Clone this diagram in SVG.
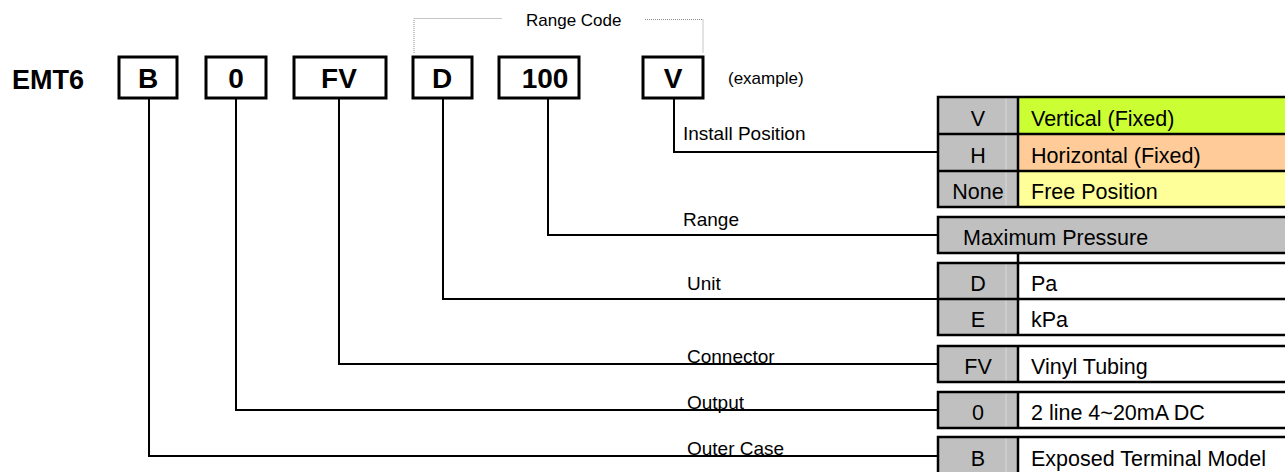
<svg xmlns="http://www.w3.org/2000/svg" width="1285" height="472" viewBox="0 0 1285 472">
<style>
.box{fill:#fff;stroke:#000;stroke-width:3}
.code{font-family:"Liberation Sans",Arial,sans-serif;font-weight:bold;font-size:28px;text-anchor:middle;fill:#000}
.lbl{font-family:"Liberation Sans",Arial,sans-serif;font-size:19px;fill:#000}
.sm{font-family:"Liberation Sans",Arial,sans-serif;font-size:17px;fill:#000}
.tt{font-family:"Liberation Sans",Arial,sans-serif;font-size:21.5px;fill:#000}
.tc{font-family:"Liberation Sans",Arial,sans-serif;font-size:21.5px;fill:#000;text-anchor:middle}
.conn{fill:none;stroke:#000;stroke-width:2}
.tb{stroke:#000;stroke-width:2.5}
.gray{fill:#c0c0c0}
.faint{stroke:#d8d8d8;stroke-width:1}
.dot{fill:none;stroke:#8c8c8c;stroke-width:1;stroke-dasharray:1 1}
</style>
<rect width="1285" height="472" fill="#fff"/>
<g id="title"><text x="12" y="89" class="code" style="text-anchor:start;font-size:27px">EMT6</text></g>
<g id="range-code">
<path class="dot" d="M414 53 V18.5 H502"/>
<path class="dot" d="M645 19.5 H703 V53"/>
<text x="526" y="26" class="sm">Range Code</text>
</g>
<text x="728" y="84" class="sm">(example)</text>
<g id="connectors">
<path class="conn" d="M674 99 V152 H938"/>
<path class="conn" d="M548 99 V235 H938"/>
<path class="conn" d="M443 99 V299 H938"/>
<path class="conn" d="M339 99 V364 H938"/>
<path class="conn" d="M236 99 V410 H938"/>
<path class="conn" d="M149 99 V456 H938"/>
</g>
<g id="box-B"><rect class="box" x="119" y="57" width="58" height="41"/><text x="148" y="88" class="code">B</text></g>
<g id="box-0"><rect class="box" x="206" y="57" width="60" height="41"/><text x="236" y="88" class="code">0</text></g>
<g id="box-FV"><rect class="box" x="294" y="57" width="92" height="41"/><text x="339" y="88" class="code">FV</text></g>
<g id="box-D"><rect class="box" x="413" y="57" width="59" height="41"/><text x="442" y="88" class="code">D</text></g>
<g id="box-100"><rect class="box" x="499" y="57" width="80" height="41"/><text x="545" y="88" class="code">100</text></g>
<g id="box-V"><rect class="box" x="643" y="57" width="60" height="41"/><text x="673" y="88" class="code">V</text></g>
<g id="labels">
<text x="683" y="140" class="lbl">Install Position</text>
<text x="683" y="226" class="lbl">Range</text>
<text x="687" y="290" class="lbl">Unit</text>
<text x="687" y="363" class="lbl">Connector</text>
<text x="687" y="409" class="lbl">Output</text>
<text x="687" y="455" class="lbl">Outer Case</text>
</g>
<g id="table-install">
<rect class="gray" x="938" y="97" width="80" height="110"/>
<rect x="1018" y="97" width="272" height="37" fill="#ccff33"/>
<rect x="1018" y="134" width="272" height="37" fill="#ffcc99"/>
<rect x="1018" y="171" width="272" height="36" fill="#ffff99"/>
<line class="faint" x1="1006" y1="98" x2="1006" y2="206"/>
<rect x="938" y="97" width="352" height="110" fill="none" class="tb"/>
<line class="tb" x1="938" y1="134" x2="1290" y2="134"/>
<line class="tb" x1="938" y1="171" x2="1290" y2="171"/>
<line class="tb" x1="1018" y1="97" x2="1018" y2="207"/>
<text x="978" y="126" class="tc">V</text><text x="1031" y="126" class="tt">Vertical (Fixed)</text>
<text x="978" y="163" class="tc">H</text><text x="1031" y="163" class="tt">Horizontal (Fixed)</text>
<text x="978" y="199" class="tc">None</text><text x="1031" y="199" class="tt">Free Position</text>
</g>
<g id="table-range">
<rect x="938" y="217" width="352" height="36" class="gray tb"/>
<text x="963" y="245" class="tt">Maximum Pressure</text>
<line class="tb" x1="1018" y1="253" x2="1018" y2="263"/>
</g>
<g id="table-unit">
<rect class="gray" x="938" y="263" width="80" height="72"/>
<rect x="1018" y="263" width="272" height="72" fill="#fff"/>
<line class="faint" x1="1006" y1="264" x2="1006" y2="334"/>
<rect x="938" y="263" width="352" height="72" fill="none" class="tb"/>
<line class="tb" x1="938" y1="299" x2="1290" y2="299"/>
<line class="tb" x1="1018" y1="263" x2="1018" y2="335"/>
<text x="978" y="291" class="tc">D</text><text x="1031" y="291" class="tt">Pa</text>
<text x="978" y="327" class="tc">E</text><text x="1031" y="327" class="tt">kPa</text>
</g>
<g id="table-connector">
<rect class="gray" x="938" y="346" width="80" height="36"/>
<rect x="1018" y="346" width="272" height="36" fill="#fff"/>
<line class="faint" x1="1006" y1="347" x2="1006" y2="381"/>
<rect x="938" y="346" width="352" height="36" fill="none" class="tb"/>
<line class="tb" x1="1018" y1="346" x2="1018" y2="382"/>
<text x="978" y="374" class="tc">FV</text><text x="1031" y="374" class="tt">Vinyl Tubing</text>
</g>
<g id="table-output">
<rect class="gray" x="938" y="392" width="80" height="36"/>
<rect x="1018" y="392" width="272" height="36" fill="#fff"/>
<line class="faint" x1="1006" y1="393" x2="1006" y2="427"/>
<rect x="938" y="392" width="352" height="36" fill="none" class="tb"/>
<line class="tb" x1="1018" y1="392" x2="1018" y2="428"/>
<text x="978" y="420" class="tc">0</text><text x="1031" y="420" class="tt">2 line 4~20mA DC</text>
</g>
<g id="table-case">
<rect class="gray" x="938" y="437" width="80" height="40"/>
<rect x="1018" y="437" width="272" height="40" fill="#fff"/>
<line class="faint" x1="1006" y1="438" x2="1006" y2="476"/>
<rect x="938" y="437" width="352" height="40" fill="none" class="tb"/>
<line class="tb" x1="1018" y1="437" x2="1018" y2="477"/>
<text x="978" y="466" class="tc">B</text><text x="1031" y="466" class="tt">Exposed Terminal Model</text>
</g>
</svg>
